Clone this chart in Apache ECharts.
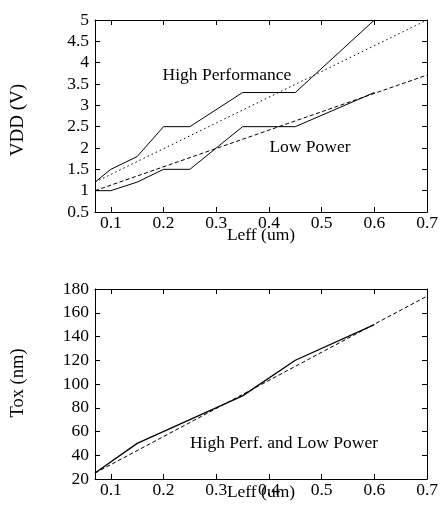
<!DOCTYPE html>
<html><head><meta charset="utf-8">
<script src="https://cdn.jsdelivr.net/npm/echarts@6/dist/echarts.min.js"></script>
<style>html,body{margin:0;padding:0;background:#fff}#c{width:441px;height:510px}</style>
</head><body><div id="c"></div>
<script>
const leffSteps = [0.07, 0.1, 0.15, 0.2, 0.25, 0.35, 0.45, 0.6];
const vddHighPerf = [1.2, 1.5, 1.8, 2.5, 2.5, 3.3, 3.3, 5.0];
const vddLowPower = [1.0, 1.0, 1.2, 1.5, 1.5, 2.5, 2.5, 3.3];
const fitX = [0.07, 0.7];
const vddHighFit = [1.2, 5.0];
const vddLowFit = [1.0, 3.71];
const leffTox = [0.07, 0.15, 0.25, 0.35, 0.45, 0.6];
const tox = [25, 50, 70, 90, 120, 150];
const toxFit = [25, 174];
const xTicks = [0.1, 0.2, 0.3, 0.4, 0.5, 0.6, 0.7];
const vddTicks = [0.5, 1, 1.5, 2, 2.5, 3, 3.5, 4, 4.5, 5];
const toxTicks = [20, 40, 60, 80, 100, 120, 140, 160, 180];

const F = 'Liberation Serif';
const FS = 17.5;
const pair = (xs, ys) => xs.map((x, i) => [x, ys[i]]);
const lbl = {fontFamily: F, fontSize: FS, color: '#000'};
function xAx(gi, show, pos) {
  return {gridIndex: gi, type: 'value', min: 0.07, max: 0.7, position: pos,
    axisLine: {show: true, onZero: false, lineStyle: {color: '#000', width: 1}},
    axisTick: {show: true, inside: true, length: 5, customValues: xTicks, lineStyle: {color: '#000'}},
    axisLabel: {show: show, customValues: xTicks, ...lbl, margin: 2, formatter: v => String(+v.toFixed(2))},
    splitLine: {show: false}};
}
function yAx(gi, show, pos, mn, mx, iv) {
  return {gridIndex: gi, type: 'value', min: mn, max: mx, interval: iv, position: pos,
    axisLine: {show: true, onZero: false, lineStyle: {color: '#000', width: 1}},
    axisTick: {show: true, inside: true, length: 5, lineStyle: {color: '#000'}},
    axisLabel: {show: show, ...lbl, margin: 6, formatter: v => String(+v.toFixed(2))},
    splitLine: {show: false}};
}
const txt = (x, y, s, rot, size) => ({type: 'text', x: x, y: y, rotation: rot || 0,
  style: {text: s, font: (size || FS) + 'px "Liberation Serif"', fill: '#000', align: 'center', verticalAlign: 'middle'}});
const chart = echarts.init(document.getElementById('c'), null, {renderer: 'canvas'});
const solid = {color: '#000', width: 1, type: 'solid'};
chart.setOption({
  animation: false,
  backgroundColor: '#fff',
  grid: [
    {left: 95, right: 13, top: 20, height: 192},
    {left: 95, right: 13, top: 289, height: 190}
  ],
  xAxis: [xAx(0, true, 'bottom'), xAx(0, false, 'top'), xAx(1, true, 'bottom'), xAx(1, false, 'top')],
  yAxis: [yAx(0, true, 'left', 0.5, 5, 0.5), yAx(0, false, 'right', 0.5, 5, 0.5),
          yAx(1, true, 'left', 20, 180, 20), yAx(1, false, 'right', 20, 180, 20)],
  series: [
    {type: 'line', xAxisIndex: 0, yAxisIndex: 0, data: pair(leffSteps, vddHighPerf), showSymbol: false, lineStyle: solid},
    {type: 'line', xAxisIndex: 0, yAxisIndex: 0, data: pair(leffSteps, vddLowPower), showSymbol: false, lineStyle: solid},
    {type: 'line', xAxisIndex: 0, yAxisIndex: 0, data: pair(fitX, vddHighFit), showSymbol: false, lineStyle: {color: '#000', width: 1, type: [1.5, 3]}},
    {type: 'line', xAxisIndex: 0, yAxisIndex: 0, data: pair(fitX, vddLowFit), showSymbol: false, lineStyle: {color: '#000', width: 1, type: [4, 2.5]}},
    {type: 'line', xAxisIndex: 2, yAxisIndex: 2, data: pair(leffTox, tox), showSymbol: false, lineStyle: {color: '#000', width: 1.3}},
    {type: 'line', xAxisIndex: 2, yAxisIndex: 2, data: pair(fitX, toxFit), showSymbol: false, lineStyle: {color: '#000', width: 1, type: [4, 2.5]}}
  ],
  graphic: [
    txt(18, 120, 'VDD (V)', Math.PI / 2, 19),
    txt(18, 383, 'Tox (nm)', Math.PI / 2, 18.5),
    txt(261, 235, 'Leff (um)'),
    txt(261, 492, 'Leff (um)'),
    txt(227, 75, 'High Performance'),
    txt(310, 147, 'Low Power'),
    txt(284, 443, 'High Perf. and Low Power')
  ]
});
</script></body></html>
